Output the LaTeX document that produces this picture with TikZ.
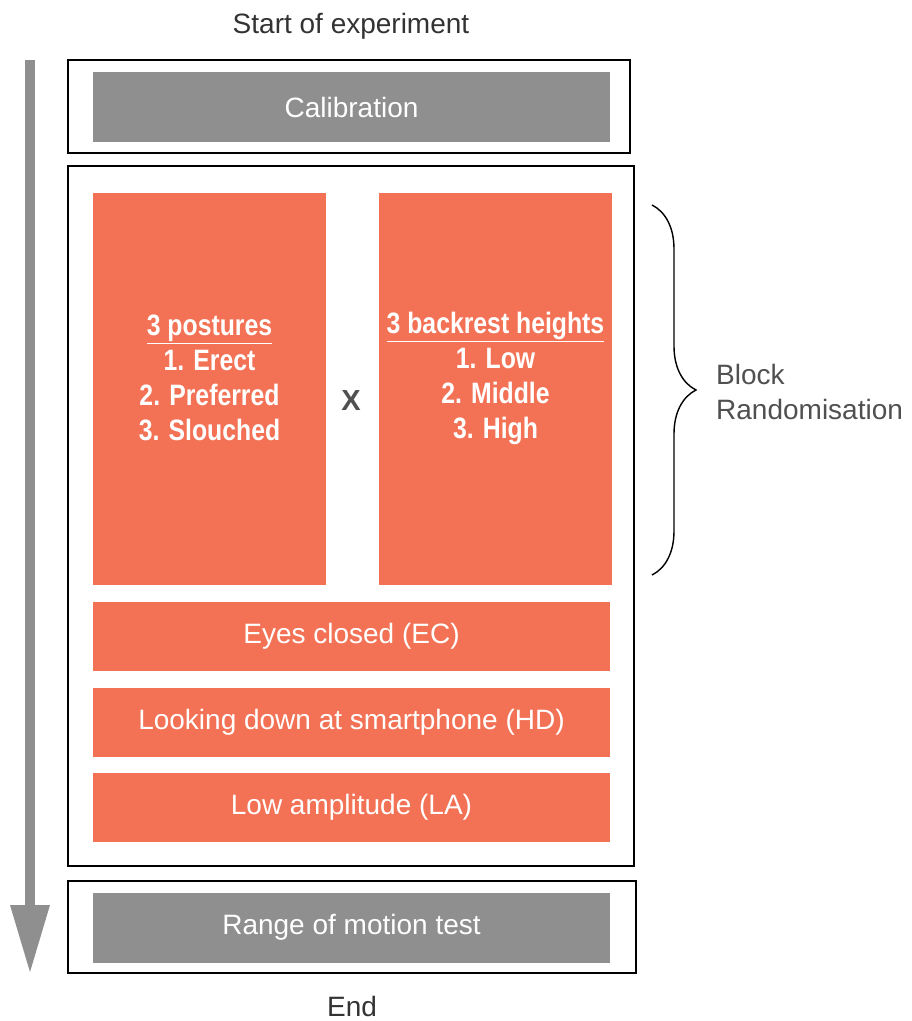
\documentclass[tikz,border=0pt]{standalone}
\usepackage{fontspec}
\setmainfont{Liberation Sans}
\newfontfamily\condfont[FakeStretch=0.84]{Liberation Sans}
\usetikzlibrary{arrows.meta,decorations.pathreplacing}
\definecolor{boxgray}{HTML}{8F8F8F}
\definecolor{boxorange}{HTML}{F37255}
\definecolor{txtgray}{HTML}{505050}
\tikzset{
  outerbox/.style={draw=black,line width=1.6pt,fill=white,inner sep=0pt},
  graybox/.style={fill=boxgray,inner sep=0pt,minimum width=517pt,minimum height=70pt,text=white,font=\fontsize{28}{32}\selectfont},
  orangebar/.style={fill=boxorange,inner sep=0pt,minimum width=517pt,minimum height=69pt,text=white,font=\fontsize{28}{32}\selectfont},
  orangecol/.style={fill=boxorange,inner sep=0pt,minimum width=233pt,minimum height=392pt},
  coltext/.style={text=white,align=center,inner sep=0pt,font=\condfont\bfseries\fontsize{29.5}{35}\selectfont},
  plainlabel/.style={text=txtgray,font=\fontsize{28}{35}\selectfont,inner sep=0pt},
  flowarrow/.style={draw=boxgray,line width=10pt,-{Triangle[length=67pt,width=40pt,line width=0pt]}},
}
\begin{document}
\begin{tikzpicture}[x=1pt,y=-1pt]
\useasboundingbox (0,0) rectangle (912,1021);
% outer boxes
\node[outerbox,minimum width=562pt,minimum height=93pt] (calout) at (349,106.5) {};
\node[outerbox,minimum width=566pt,minimum height=700pt] (midout) at (351,516) {};
\node[outerbox,minimum width=568pt,minimum height=92pt] (romout) at (352,927) {};
% inner boxes
\node[graybox] (cal) at (351.5,107) {Calibration};
\node[orangecol] (post) at (209.5,389) {};
\node[orangecol] (back) at (495.5,389) {};
\node[coltext] (posttext) at (209.5,378) {\underline{3 postures}\\1. Erect\\2. Preferred\\3. Slouched};
\node[coltext] (backtext) at (495.5,378) {\underline{3 backrest heights}\\1. Low\\2. Middle\\3. High};
\node[text=txtgray,font=\bfseries\fontsize{29}{29}\selectfont,inner sep=0pt] (times) at (351,401) {X};
\node[orangebar] (ec) at (351.5,636.5) {Eyes closed (EC)};
\node[orangebar] (hd) at (351.5,722) {Looking down at smartphone (HD)};
\node[orangebar] (la) at (351.5,807.5) {Low amplitude (LA)};
\node[graybox] (rom) at (351.5,927.5) {Range of motion test};
% labels
\node[plainlabel,text=black!80] (start) at (351,26) {Start of experiment};
\node[plainlabel,text=black!80] (end) at (352,1006) {End};
\node[plainlabel,align=left,anchor=west] (block) at (716,392) {Block\\Randomisation};
% brace
\coordinate (btop) at (652,205);
\coordinate (bbot) at (652,575);
\draw[line width=1.4pt,decorate,decoration={brace,amplitude=44pt,aspect=0.5}] (btop) -- (bbot);
% arrow
\coordinate (astart) at (30,60);
\coordinate (aend) at (30,972);
\draw[flowarrow] (astart) -- (aend);
\end{tikzpicture}
\end{document}
